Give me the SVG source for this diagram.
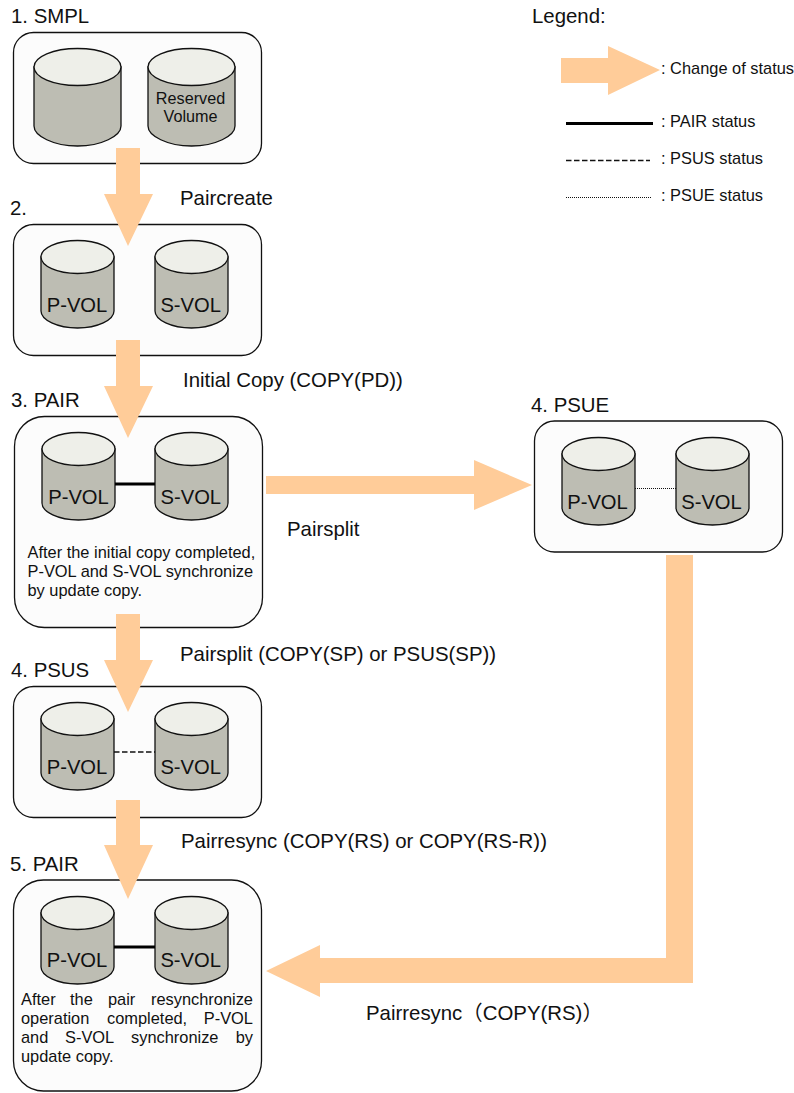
<svg xmlns="http://www.w3.org/2000/svg" width="794" height="1093" viewBox="0 0 794 1093">
<style>
text{font-family:"Liberation Sans",Arial,sans-serif;fill:#111}
.box{fill:#fcfcfc;stroke:#111;stroke-width:1.3}
.body{fill:#bdbdb3;stroke:#111;stroke-width:1.3}
.top{fill:#eeefe9;stroke:#111;stroke-width:1.3}
.arrow{fill:#ffcc99;stroke:none}
.t18{font-size:20.4px}.t16{font-size:16.2px}.t14{font-size:16.4px}.t20{font-size:20.2px}
.m{text-anchor:middle}
.pair{stroke:#000;stroke-width:3;fill:none}
.psus{stroke:#111;stroke-width:1.3;stroke-dasharray:5.500 2.500;fill:none}
.psue{stroke:#111;stroke-width:1;stroke-dasharray:1 1;fill:none}
</style>
<defs>
<g id="cyl-big"><path class="body" d="M0 19V78C0 88 19.500 98 43.500 98S87 88 87 78V19Z"/><ellipse class="top" cx="43.500" cy="19" rx="43.500" ry="18.500"/></g>
<g id="cyl"><path class="body" d="M0 17V71C0 80 16.500 88 36.500 88S73 80 73 71V17Z"/><ellipse class="top" cx="36.500" cy="17" rx="36.500" ry="16.500"/></g>
</defs>
<g id="node-smpl">
<text class="t18" x="11" y="23">1. SMPL</text>
<rect class="box" x="13.500" y="32.500" width="248" height="131" rx="20"/>
<use href="#cyl-big" x="34" y="48"/><use href="#cyl-big" x="148" y="48"/>
<text class="t16 m" x="190.500" y="104">Reserved</text><text class="t16 m" x="190.500" y="122">Volume</text>
</g>
<g id="node-2">
<text class="t18" x="10" y="215">2.</text>
<rect class="box" x="13.500" y="224.500" width="248" height="131" rx="20"/>
<use href="#cyl" x="41" y="240"/><use href="#cyl" x="155" y="240"/>
<text class="t20 m" x="77" y="312">P-VOL</text><text class="t20 m" x="190.700" y="312">S-VOL</text>
</g>
<g id="node-pair-3">
<text class="t18" x="11" y="407">3. PAIR</text>
<rect class="box" x="14.500" y="416.500" width="248" height="211" rx="30"/>
<use href="#cyl" x="42" y="432"/><use href="#cyl" x="155" y="432"/>
<text class="t20 m" x="78.500" y="504">P-VOL</text><text class="t20 m" x="190.800" y="504">S-VOL</text>
<text class="t14" x="27.500" y="558">After the initial copy completed,</text>
<text class="t14" x="27.500" y="577">P-VOL and S-VOL synchronize</text>
<text class="t14" x="27.500" y="596">by update copy.</text>
</g>
<g id="node-psus">
<text class="t18" x="11" y="677">4. PSUS</text>
<rect class="box" x="13.500" y="686.500" width="248" height="131" rx="20"/>
<use href="#cyl" x="41" y="702"/><use href="#cyl" x="155" y="702"/>
<text class="t20 m" x="77" y="773.500">P-VOL</text><text class="t20 m" x="190.700" y="773.500">S-VOL</text>
</g>
<g id="node-pair-5">
<text class="t18" x="10" y="871">5. PAIR</text>
<rect class="box" x="13.500" y="880" width="248" height="211" rx="30"/>
<use href="#cyl" x="41" y="896"/><use href="#cyl" x="155" y="896"/>
<text class="t20 m" x="77" y="967">P-VOL</text><text class="t20 m" x="190.700" y="967">S-VOL</text>
<text class="t14" x="21" y="1005">After</text><text class="t14" x="70" y="1005">the</text><text class="t14" x="108" y="1005">pair</text><text class="t14" x="253" y="1005" text-anchor="end">resynchronize</text>
<text class="t14" x="21" y="1024">operation</text><text class="t14" x="107" y="1024">completed,</text><text class="t14" x="253" y="1024" text-anchor="end">P-VOL</text>
<text class="t14" x="21" y="1043">and</text><text class="t14" x="65" y="1043">S-VOL</text><text class="t14" x="131" y="1043">synchronize</text><text class="t14" x="253" y="1043" text-anchor="end">by</text>
<text class="t14" x="21" y="1062">update copy.</text>
</g>
<g id="node-psue">
<text class="t18" x="531" y="412">4. PSUE</text>
<rect class="box" x="534.500" y="421" width="248" height="131" rx="20"/>
<use href="#cyl" x="562" y="437"/><use href="#cyl" x="676" y="437"/>
<text class="t20 m" x="597.500" y="508.700">P-VOL</text><text class="t20 m" x="711.500" y="508.700">S-VOL</text>
</g>
<g id="connectors">
<path class="pair" d="M115 484H155"/>
<path class="psus" d="M114 752H155"/>
<path class="psue" d="M635 488.500H676"/>
<path class="pair" d="M114 947H155"/>
<path class="arrow" d="M116 148H140V194H153L128 246L104 194H116Z"/>
<path class="arrow" d="M116 340H140V386H153L128 438L104 386H116Z"/>
<path class="arrow" d="M116 614H140V660H153L128 712L104 660H116Z"/>
<path class="arrow" d="M116 800H140V845H153L128 899L104 845H116Z"/>
<path class="arrow" d="M266 476H474V460L532 485L474 510V494H266Z"/>
<path class="arrow" d="M666 555H693V983H320V997L266 971L320 945V958H666Z"/>
</g>
<g id="labels">
<text class="t18" x="180" y="205">Paircreate</text>
<text class="t18" x="183" y="387">Initial Copy (COPY(PD))</text>
<text class="t18" x="287" y="536">Pairsplit</text>
<text class="t18" x="180" y="661">Pairsplit (COPY(SP) or PSUS(SP))</text>
<text class="t18" x="181" y="848">Pairresync (COPY(RS) or COPY(RS-R))</text>
<text class="t18" x="366" y="1020" style="font-family:'Liberation Sans','Noto Sans CJK JP',sans-serif">Pairresync（COPY(RS)）</text>
</g>
<g id="legend">
<text class="t18" x="532" y="23">Legend:</text>
<path class="arrow" d="M561 58H608V46L660 70L608 95V83H561Z"/>
<text class="t14" x="661" y="74">: Change of status</text>
<path class="pair" d="M566 123.500H653"/>
<text class="t14" x="661" y="127">: PAIR status</text>
<path class="psus" d="M566 160.500H650"/>
<text class="t14" x="661" y="164">: PSUS status</text>
<path class="psue" d="M566 197.500H651"/>
<text class="t14" x="661" y="201">: PSUE status</text>
</g>
</svg>
